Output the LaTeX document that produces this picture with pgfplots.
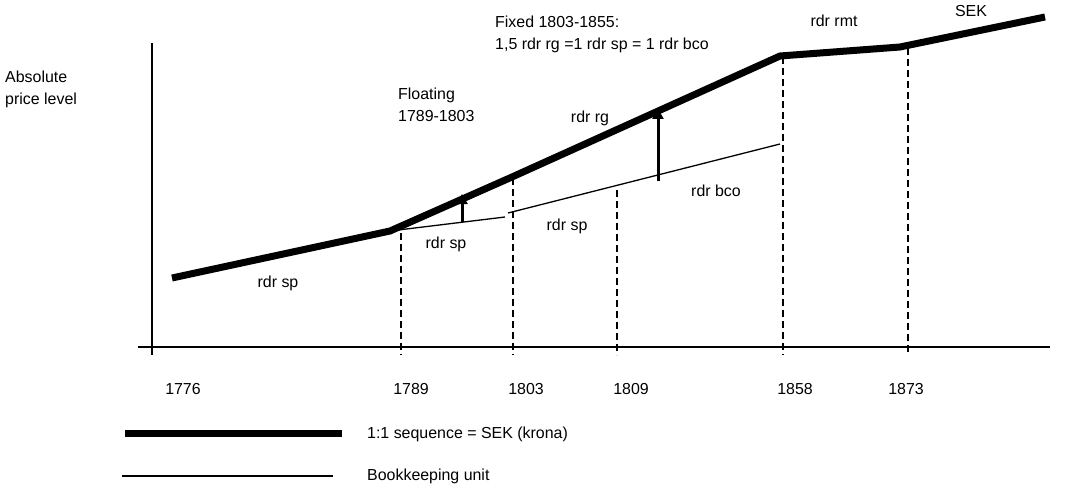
\documentclass[border=0pt]{standalone}
\usepackage{fontspec}
\setmainfont{Liberation Sans}
\usepackage{pgfplots}
\pgfplotsset{compat=1.18}
\usetikzlibrary{arrows.meta}
\tikzset{t/.style={font=\fontsize{16}{19}\selectfont, inner sep=0pt}}
\begin{document}
\begin{tikzpicture}
\begin{axis}[
  width=1088bp, height=485bp, scale only axis,
  xmin=0, xmax=1088, ymin=0, ymax=485, y dir=reverse,
  hide axis, clip=false,
]
\path (axis cs:0,0) rectangle (axis cs:1088,485);
% axes
\addplot[black, line width=1.5bp] coordinates {(152,43) (152,355)};
\addplot[black, line width=1.5bp] coordinates {(138,347) (1050,347)};
% dashed verticals
\addplot[black, line width=2.5bp, dash pattern=on 7bp off 4bp] coordinates {(401,233) (401,355)};
\addplot[black, line width=2.5bp, dash pattern=on 7bp off 4bp] coordinates {(513,178) (513,355)};
\addplot[black, line width=2.5bp, dash pattern=on 7bp off 4bp] coordinates {(617,190) (617,355)};
\addplot[black, line width=2.5bp, dash pattern=on 7bp off 4bp] coordinates {(783,57) (783,355)};
\addplot[black, line width=2.5bp, dash pattern=on 7bp off 4bp] coordinates {(908,48) (908,355)};
% thin bookkeeping line
\addplot[black, line width=1.3bp] coordinates {(390,231) (505,217)};
\addplot[black, line width=1.3bp] coordinates {(508,213) (780,144)};
% thick SEK line
\addplot[black, line width=7bp, line join=miter] coordinates {(172,278) (390,231) (512,177) (780,56) (900,47) (1045,17)};
% arrows
\addplot[black, line width=3bp, -{Triangle[width=11bp,length=10bp]}] coordinates {(462,222) (462,194)};
\addplot[black, line width=3bp, -{Triangle[width=11bp,length=10bp]}] coordinates {(658,181) (658,109)};
% texts
\node[t, anchor=base west] at (axis cs:5,83) {Absolute};
\node[t, anchor=base west] at (axis cs:5,104) {price level};
\node[t, anchor=base west] at (axis cs:495,28) {Fixed 1803-1855:};
\node[t, anchor=base west] at (axis cs:495,50) {1,5 rdr rg =1 rdr sp = 1 rdr bco};
\node[t, anchor=base] at (axis cs:834,27) {rdr rmt};
\node[t, anchor=base] at (axis cs:971,17) {SEK};
\node[t, anchor=base west] at (axis cs:398,99) {Floating};
\node[t, anchor=base west] at (axis cs:398,121) {1789-1803};
\node[t, anchor=base] at (axis cs:590,122) {rdr rg};
\node[t, anchor=base] at (axis cs:716,196) {rdr bco};
\node[t, anchor=base] at (axis cs:278,287) {rdr sp};
\node[t, anchor=base] at (axis cs:446,248) {rdr sp};
\node[t, anchor=base] at (axis cs:567,230) {rdr sp};
% tick labels
\node[t, anchor=base] at (axis cs:183,394) {1776};
\node[t, anchor=base] at (axis cs:411,394) {1789};
\node[t, anchor=base] at (axis cs:526,394) {1803};
\node[t, anchor=base] at (axis cs:631,394) {1809};
\node[t, anchor=base] at (axis cs:795,394) {1858};
\node[t, anchor=base] at (axis cs:906,394) {1873};
% legend
\addplot[black, line width=7bp] coordinates {(125,433) (342,433)};
\addplot[black, line width=1.3bp] coordinates {(122,476) (333,476)};
\node[t, anchor=base west] at (axis cs:367,438) {1:1 sequence = SEK (krona)};
\node[t, anchor=base west] at (axis cs:367,480) {Bookkeeping unit};
\end{axis}
\end{tikzpicture}
\end{document}
